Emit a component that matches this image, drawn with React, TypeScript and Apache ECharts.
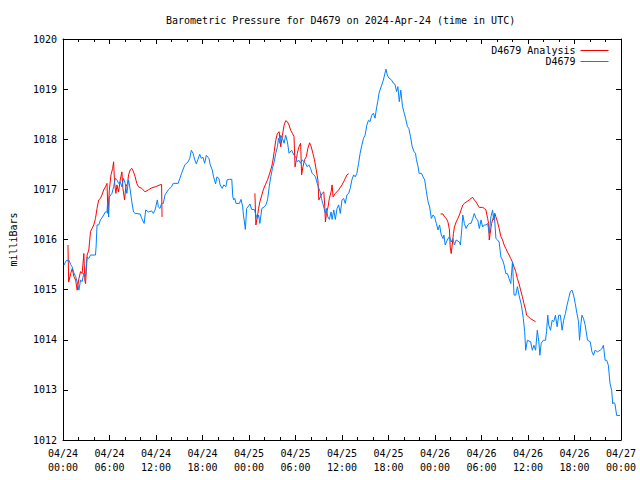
import React, { useEffect, useRef } from "react";
import * as echarts from "echarts";

const FONT = '"DejaVu Sans Mono", "Liberation Mono", monospace';
const RED = "#ff0000";
const BLUE = "#0080ff";

const titleText = "Barometric Pressure for D4679 on 2024-Apr-24 (time in UTC)";
const seriesNames = ["D4679 Analysis", "D4679"];
const seriesColors = [RED, BLUE];
const yAxisName = "milliBars";
// hours since 2024-04-24 00:00 UTC
const startDay = 24;
const monthLabel = "04";

// Observations [hour, mbar]
const observed: [number, number][] = [
  [0.13,1015.49],[0.42,1015.58],[0.77,1015.59],[0.99,1015.50],[1.19,1015.45],[1.41,1015.33],[1.63,1015.26],[1.83,1015.16],[2.05,1014.99],[2.27,1015.19],[2.47,1015.16],[2.69,1015.33],[2.91,1015.26],[3.11,1015.65],[3.33,1015.62],[3.55,1015.69],[4.19,1015.69],[4.27,1015.85],[4.39,1016.29],[4.61,1016.29],[4.83,1016.39],[5.03,1016.43],[5.47,1016.55],[5.68,1016.55],[5.76,1016.75],[5.89,1016.45],[5.98,1016.85],[6.32,1016.92],[6.53,1017.05],[6.75,1017.22],[6.96,1017.19],[7.17,1017.12],[7.39,1017.15],[7.60,1017.05],[7.81,1017.22],[8.03,1017.12],[8.24,1016.92],[8.46,1017.19],[8.67,1016.99],[8.88,1016.75],[9.10,1016.55],[9.31,1016.52],[9.95,1016.51],[10.16,1016.42],[10.47,1016.32],[10.67,1016.59],[11.02,1016.55],[11.44,1016.57],[11.66,1016.52],[11.88,1016.59],[12.17,1016.79],[12.30,1016.65],[12.52,1016.62],[12.72,1016.72],[12.94,1016.72],[13.16,1016.89],[13.58,1016.99],[14.00,1017.05],[14.22,1017.12],[14.86,1017.12],[15.08,1017.22],[15.28,1017.31],[15.72,1017.49],[16.14,1017.55],[16.36,1017.62],[16.56,1017.78],[16.78,1017.72],[17.00,1017.59],[17.20,1017.51],[17.42,1017.60],[17.64,1017.70],[17.85,1017.62],[18.06,1017.64],[18.28,1017.52],[18.49,1017.68],[18.83,1017.62],[19.00,1017.49],[19.25,1017.39],[19.43,1017.25],[19.69,1017.11],[19.86,1017.25],[20.11,1017.22],[20.28,1017.09],[20.54,1017.02],[20.75,1017.09],[21.01,1017.05],[21.18,1017.19],[21.48,1017.20],[21.78,1017.20],[21.91,1016.85],[22.03,1016.79],[22.16,1016.82],[22.33,1016.72],[22.76,1016.72],[22.97,1016.80],[23.19,1016.65],[23.28,1016.49],[23.41,1016.35],[23.53,1016.20],[23.70,1016.62],[23.96,1016.67],[24.12,1016.71],[24.34,1016.60],[24.69,1016.60],[24.89,1016.49],[25.11,1016.42],[25.24,1016.49],[25.40,1016.32],[25.66,1016.62],[25.97,1016.65],[26.17,1016.69],[26.39,1016.79],[26.61,1017.05],[26.81,1017.25],[27.03,1017.42],[27.25,1017.55],[27.45,1017.72],[27.67,1017.85],[27.80,1018.02],[27.97,1017.92],[28.09,1018.08],[28.31,1018.02],[28.53,1017.92],[28.73,1018.08],[28.95,1017.95],[29.17,1017.72],[29.50,1017.78],[29.81,1017.68],[30.02,1017.65],[30.23,1017.55],[30.45,1017.58],[30.66,1017.52],[30.87,1017.59],[31.09,1017.55],[31.30,1017.52],[31.51,1017.45],[31.73,1017.49],[31.94,1017.42],[32.15,1017.32],[32.37,1017.29],[32.58,1017.25],[32.80,1017.12],[33.02,1017.02],[33.18,1016.95],[33.35,1016.82],[33.52,1016.72],[33.69,1016.62],[33.86,1016.52],[33.99,1016.62],[34.17,1016.45],[34.37,1016.40],[34.59,1016.55],[34.72,1016.40],[34.94,1016.59],[35.14,1016.40],[35.36,1016.62],[35.57,1016.69],[35.78,1016.52],[36.00,1016.79],[36.21,1016.82],[36.42,1016.72],[36.64,1016.89],[36.86,1016.92],[37.06,1017.02],[37.28,1017.19],[37.50,1017.29],[37.70,1017.25],[37.92,1017.32],[38.14,1017.52],[38.34,1017.72],[38.56,1017.88],[38.78,1018.02],[38.98,1018.08],[39.20,1018.28],[39.42,1018.38],[39.62,1018.35],[39.84,1018.48],[40.06,1018.52],[40.26,1018.42],[40.48,1018.65],[40.61,1018.75],[40.78,1018.92],[40.90,1018.98],[41.12,1019.08],[41.34,1019.18],[41.55,1019.32],[41.67,1019.40],[41.85,1019.28],[42.06,1019.22],[42.40,1019.18],[42.62,1019.12],[42.83,1019.10],[43.04,1018.95],[43.21,1019.05],[43.39,1018.75],[43.59,1018.98],[43.81,1018.65],[44.03,1018.52],[44.20,1018.42],[44.45,1018.25],[44.62,1018.22],[44.84,1018.05],[45.06,1017.85],[45.31,1017.75],[45.48,1017.72],[45.61,1017.59],[45.82,1017.45],[45.95,1017.32],[46.25,1017.32],[46.46,1017.25],[46.67,1017.19],[46.89,1016.95],[47.11,1016.75],[47.31,1016.65],[47.53,1016.42],[47.75,1016.49],[47.95,1016.45],[48.17,1016.32],[48.39,1016.19],[48.59,1016.29],[48.81,1016.09],[49.03,1016.02],[49.15,1016.09],[49.32,1015.89],[49.58,1015.99],[49.87,1016.06],[50.09,1015.95],[50.31,1016.02],[50.51,1015.89],[50.73,1015.99],[51.15,1015.95],[51.28,1015.89],[51.46,1016.22],[51.59,1016.49],[51.79,1016.32],[52.01,1016.22],[52.23,1016.29],[52.43,1016.32],[52.65,1016.32],[52.87,1016.42],[53.07,1016.52],[53.29,1016.42],[53.51,1016.39],[53.72,1016.22],[53.94,1016.39],[54.15,1016.25],[54.36,1016.29],[54.57,1016.29],[54.79,1016.32],[55.00,1016.12],[55.21,1016.45],[55.43,1016.59],[55.56,1016.39],[55.64,1016.52],[55.86,1016.02],[56.07,1015.99],[56.28,1015.95],[56.50,1015.65],[56.72,1015.59],[56.92,1015.49],[57.14,1015.32],[57.35,1015.32],[57.56,1015.22],[57.78,1015.12],[57.99,1015.55],[58.20,1014.89],[58.42,1014.89],[58.63,1015.06],[58.84,1014.89],[59.15,1014.69],[59.40,1014.42],[59.57,1014.16],[59.70,1013.79],[59.92,1013.99],[60.34,1013.96],[60.56,1013.79],[60.76,1013.89],[60.98,1013.79],[61.20,1014.19],[61.40,1013.96],[61.53,1013.69],[61.71,1013.93],[61.97,1013.99],[62.26,1013.99],[62.39,1014.16],[62.55,1014.49],[62.68,1014.29],[62.90,1014.19],[63.12,1014.39],[63.32,1014.36],[63.54,1014.49],[63.76,1014.26],[63.96,1014.49],[64.18,1014.49],[64.40,1014.19],[64.60,1014.39],[64.82,1014.52],[65.04,1014.69],[65.24,1014.82],[65.46,1014.96],[65.68,1014.99],[65.88,1014.89],[66.10,1014.72],[66.32,1014.52],[66.52,1014.36],[66.65,1013.99],[66.83,1014.32],[66.96,1014.49],[67.17,1014.42],[67.38,1014.29],[67.51,1014.16],[67.68,1013.99],[68.03,1013.96],[68.25,1013.76],[68.45,1013.69],[68.66,1013.79],[68.96,1013.76],[69.31,1013.79],[69.52,1013.82],[69.73,1013.89],[69.95,1013.59],[70.16,1013.59],[70.37,1013.49],[70.59,1013.12],[70.80,1012.99],[70.93,1012.72],[71.09,1012.75],[71.22,1012.72],[71.44,1012.49],[71.87,1012.49],
];

// Analysis, three separate runs [hour, mbar]
const analysisRun1: [number, number][] = [
  [0.64,1015.89],[0.73,1015.15],[0.99,1015.32],[1.19,1015.42],[1.41,1015.26],[1.63,1015.19],[1.83,1014.99],[2.05,1015.22],[2.27,1015.36],[2.47,1015.32],[2.69,1015.72],[2.82,1015.19],[2.91,1015.12],[3.11,1015.69],[3.33,1015.79],[3.55,1016.16],[3.75,1016.22],[3.97,1016.29],[4.19,1016.42],[4.39,1016.62],[4.61,1016.79],[4.83,1016.82],[5.03,1016.89],[5.25,1016.99],[5.47,1017.05],[5.68,1017.12],[5.80,1016.52],[5.98,1016.99],[6.19,1017.29],[6.41,1017.42],[6.53,1017.55],[6.66,1017.12],[6.83,1016.92],[6.96,1017.09],[7.17,1016.95],[7.39,1017.19],[7.60,1017.35],[7.73,1017.02],[7.94,1016.79],[8.11,1017.05],[8.33,1017.12],[8.46,1017.29],[8.67,1017.39],[8.88,1017.42],[9.10,1017.35],[9.31,1017.25],[9.52,1017.12],[9.74,1017.05],[10.16,1017.02],[10.59,1016.95],[11.02,1016.99],[11.44,1017.03],[11.88,1017.05],[12.52,1017.09],[12.72,1017.10],[12.78,1016.45],
];
const analysisRun2: [number, number][] = [
  [24.76,1016.92],[24.89,1016.29],[25.11,1016.49],[25.24,1016.62],[25.40,1016.75],[25.66,1016.89],[25.84,1016.99],[26.10,1017.09],[26.39,1017.19],[26.61,1017.29],[26.81,1017.39],[27.03,1017.52],[27.25,1017.75],[27.45,1017.98],[27.67,1018.12],[27.89,1018.15],[28.09,1017.85],[28.31,1018.08],[28.53,1018.28],[28.73,1018.37],[28.95,1018.35],[29.17,1018.28],[29.38,1018.18],[29.60,1018.12],[29.81,1018.05],[29.94,1017.45],[30.11,1017.59],[30.23,1017.72],[30.45,1017.85],[30.66,1017.92],[30.79,1017.29],[30.96,1017.45],[31.17,1017.59],[31.39,1017.65],[31.60,1017.82],[31.82,1017.93],[32.03,1017.85],[32.24,1017.72],[32.45,1017.59],[32.67,1017.39],[32.89,1017.19],[33.01,1016.79],[33.22,1016.85],[33.44,1016.92],[33.65,1016.95],[33.78,1016.65],[33.86,1016.35],[33.99,1016.52],[34.20,1016.65],[34.37,1016.82],[34.59,1016.95],[34.72,1017.09],[34.85,1016.85],[35.14,1016.92],[35.57,1016.99],[36.00,1017.09],[36.21,1017.15],[36.42,1017.22],[36.64,1017.29],[36.86,1017.31],
];
const analysisRun3: [number, number][] = [
  [48.72,1016.51],[49.03,1016.51],[49.23,1016.45],[49.45,1016.42],[49.67,1016.35],[49.87,1016.19],[49.96,1015.85],[50.09,1015.72],[50.22,1015.89],[50.38,1016.12],[50.51,1016.25],[50.73,1016.35],[50.95,1016.42],[51.15,1016.49],[51.37,1016.59],[51.59,1016.69],[51.79,1016.72],[52.23,1016.77],[52.43,1016.79],[52.65,1016.82],[52.87,1016.84],[53.07,1016.79],[53.29,1016.75],[53.51,1016.69],[53.72,1016.64],[54.15,1016.64],[54.36,1016.62],[54.57,1016.59],[54.79,1016.42],[54.92,1016.32],[55.00,1015.99],[55.12,1016.12],[55.30,1016.32],[55.56,1016.45],[55.73,1016.52],[55.86,1016.45],[56.07,1016.35],[56.28,1016.22],[56.50,1016.06],[56.72,1015.99],[56.92,1015.89],[57.14,1015.82],[57.35,1015.75],[57.56,1015.69],[57.78,1015.62],[57.99,1015.55],[58.20,1015.45],[58.42,1015.36],[58.63,1015.22],[58.84,1015.12],[59.05,1014.99],[59.27,1014.86],[59.48,1014.72],[59.70,1014.59],[59.82,1014.49],[60.12,1014.45],[60.34,1014.42],[60.98,1014.36],
];

const xMin = 0;
const xMax = 72;
const xStep = 6;
const yMin = 1012;
const yMax = 1020;
const yStep = 1;

const pad2 = (n: number) => (n < 10 ? "0" + n : String(n));
const fmtHour = (h: number) => {
  const day = startDay + Math.floor(h / 24);
  const hh = Math.round(h % 24);
  return `${monthLabel}/${pad2(day)}\n${pad2(hh)}:00`;
};

const txt = { fontFamily: FONT, fontSize: 10, color: "#000" };

export default function App() {
  const ref = useRef<HTMLDivElement>(null);
  useEffect(() => {
    if (!ref.current) return;
    const chart = echarts.init(ref.current, null, { renderer: "svg" });
    const axisLine = { show: true, onZero: false, lineStyle: { color: "#000", width: 1 } };
    const tick = { show: true, inside: true, length: 5, lineStyle: { color: "#000", width: 1 } };
    const minor = { show: true, splitNumber: 3, length: 3, lineStyle: { color: "#000", width: 1 } };
    const redLine = (data: [number, number][]) => ({
      name: seriesNames[0],
      type: "line",
      data,
      showSymbol: false,
      symbol: "none",
      color: RED,
      itemStyle: { color: RED },
      lineStyle: { color: RED, width: 1 },
      emphasis: { disabled: true },
      z: 2,
    });
    chart.setOption({
      animation: false,
      backgroundColor: "#fff",
      title: {
        text: titleText,
        left: 161,
        top: 10,
        textStyle: { ...txt, fontWeight: "normal" },
      },
      legend: {
        data: seriesNames.map((name, i) => ({
          name,
          itemStyle: { opacity: 0 },
          lineStyle: { color: seriesColors[i], width: 1 },
        })),
        orient: "vertical",
        right: 26,
        top: 40,
        align: "right",
        itemWidth: 28,
        itemHeight: 12,
        itemGap: 0,
        itemStyle: { opacity: 0 },
        lineStyle: { width: 1 },
        textStyle: { ...txt, lineHeight: 11 },
      },
      grid: { left: 59, right: 19, top: 39, bottom: 40 },
      xAxis: [
        {
          type: "value",
          min: xMin,
          max: xMax,
          interval: xStep,
          position: "bottom",
          axisLine,
          axisTick: tick,
          minorTick: minor,
          splitLine: { show: false },
          axisLabel: { ...txt, margin: 6, lineHeight: 14, formatter: (v: number) => fmtHour(v) },
        },
        {
          type: "value",
          min: xMin,
          max: xMax,
          interval: xStep,
          position: "top",
          axisLine,
          axisTick: tick,
          minorTick: minor,
          splitLine: { show: false },
          axisLabel: { show: false },
        },
      ],
      yAxis: [
        {
          type: "value",
          min: yMin,
          max: yMax,
          interval: yStep,
          position: "left",
          name: yAxisName,
          nameLocation: "middle",
          nameGap: 45,
          nameRotate: 90,
          nameTextStyle: txt,
          axisLine,
          axisTick: tick,
          splitLine: { show: false },
          axisLabel: { ...txt, margin: 6, formatter: (v: number) => String(v) },
        },
        {
          type: "value",
          min: yMin,
          max: yMax,
          interval: yStep,
          position: "right",
          axisLine,
          axisTick: tick,
          splitLine: { show: false },
          axisLabel: { show: false },
        },
      ],
      series: [
        redLine(analysisRun1),
        redLine(analysisRun2),
        redLine(analysisRun3),
        {
          name: seriesNames[1],
          type: "line",
          data: observed,
          showSymbol: false,
          symbol: "none",
          color: BLUE,
          itemStyle: { color: BLUE },
          lineStyle: { color: BLUE, width: 1 },
          emphasis: { disabled: true },
          z: 3,
        },
      ],
    });
    return () => chart.dispose();
  }, []);
  return (
    <div
      ref={ref}
      style={{ position: "absolute", left: 0, top: 0, width: 640, height: 480, background: "#fff" }}
    />
  );
}
